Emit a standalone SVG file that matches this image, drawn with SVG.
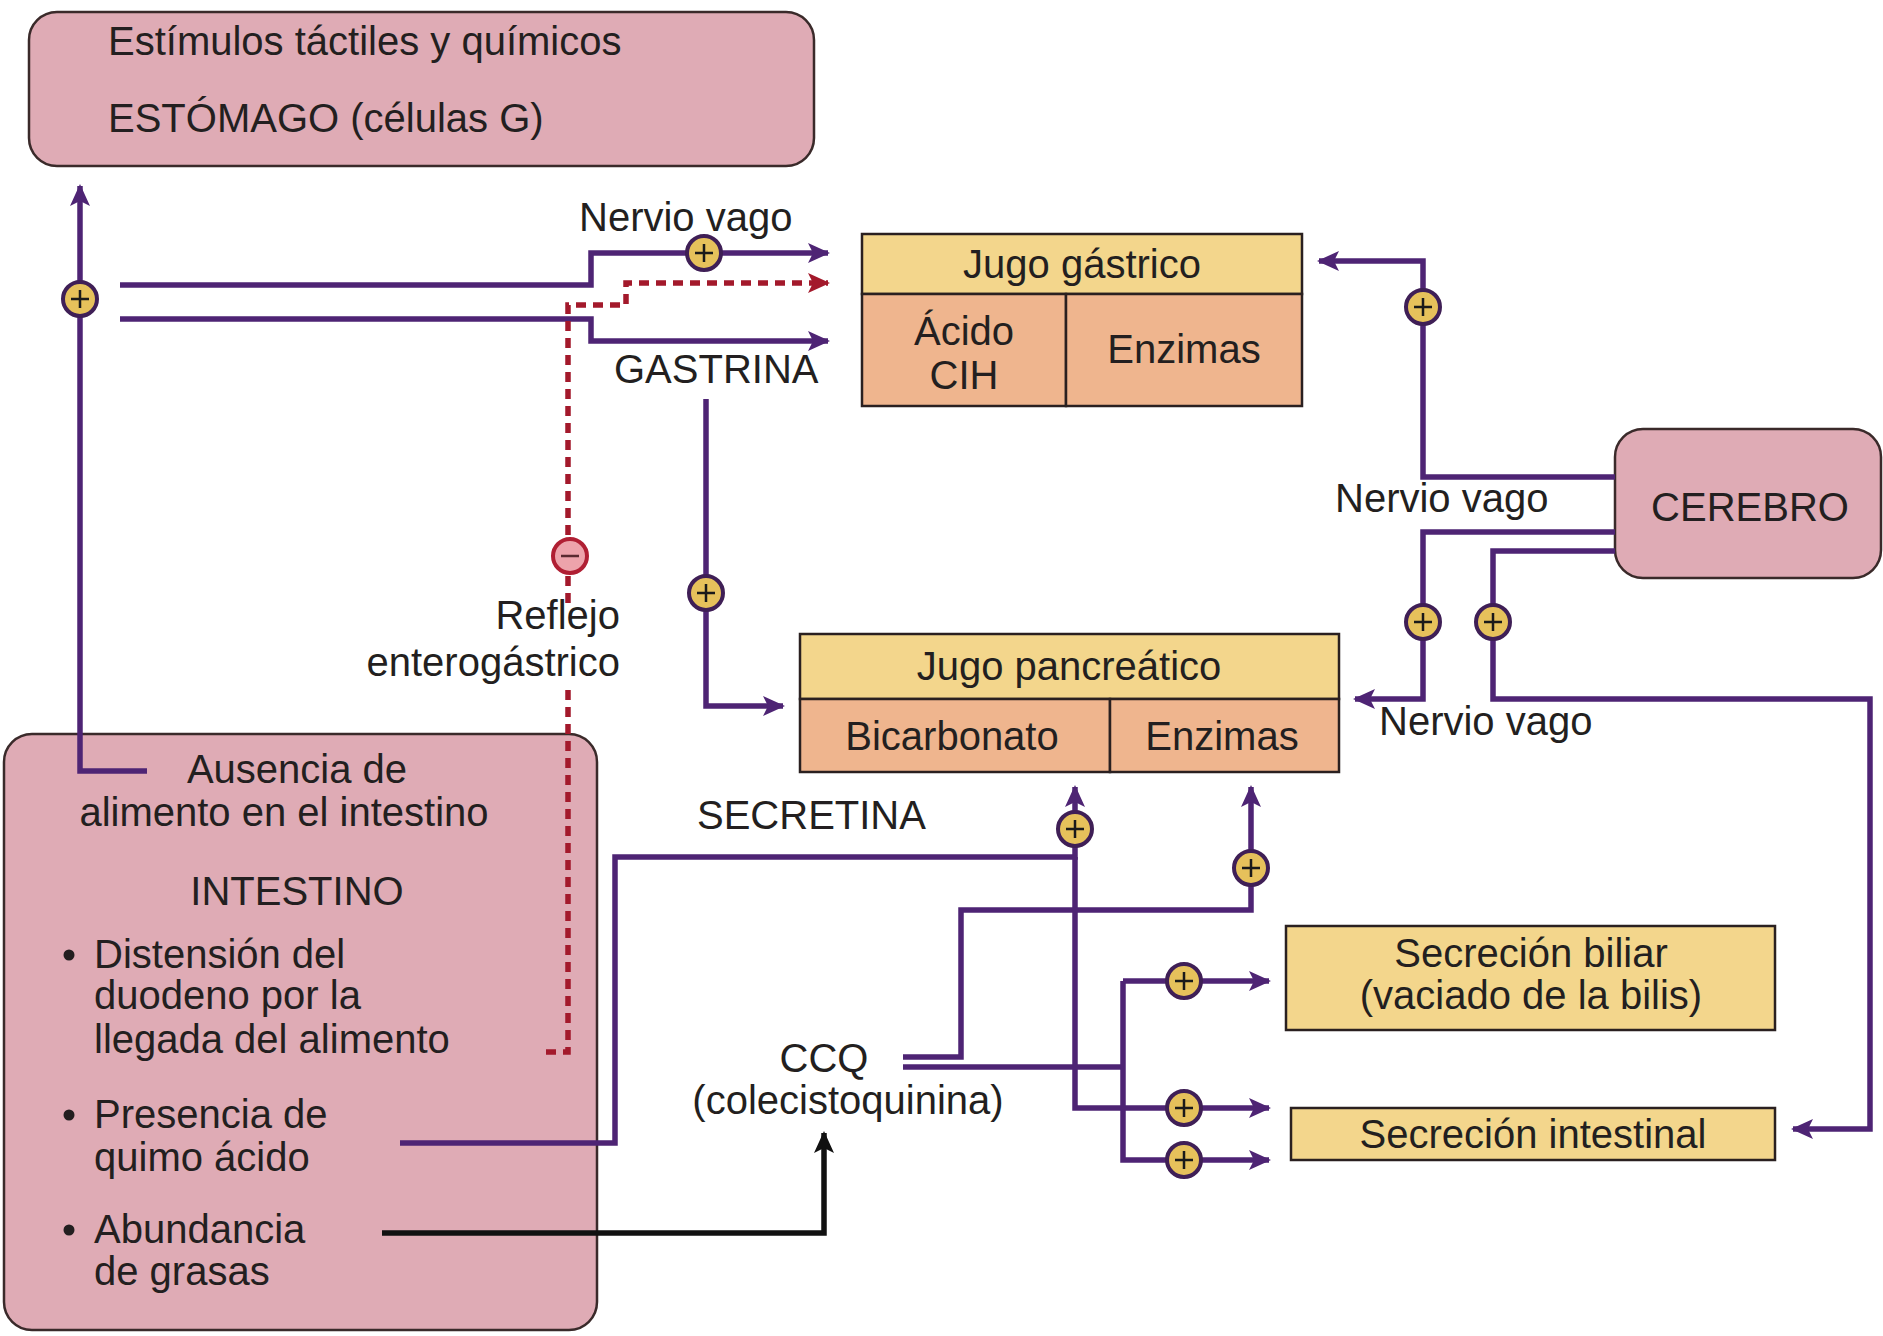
<svg xmlns="http://www.w3.org/2000/svg" width="1883" height="1336" viewBox="0 0 1883 1336">
  <defs>
    <marker id="arrP" viewBox="0 0 22 20" refX="20" refY="10" markerWidth="22" markerHeight="20" markerUnits="userSpaceOnUse" orient="auto">
      <path d="M0,0 L22,10 L0,20 L5,10 Z" fill="#4e2474"/>
    </marker>
    <marker id="arrR" viewBox="0 0 22 20" refX="20" refY="10" markerWidth="22" markerHeight="20" markerUnits="userSpaceOnUse" orient="auto">
      <path d="M0,0 L22,10 L0,20 L5,10 Z" fill="#a3192b"/>
    </marker>
    <marker id="arrK" viewBox="0 0 22 20" refX="20" refY="10" markerWidth="22" markerHeight="20" markerUnits="userSpaceOnUse" orient="auto">
      <path d="M0,0 L22,10 L0,20 L5,10 Z" fill="#111"/>
    </marker>
    <g id="plus">
      <circle r="17" fill="#e6c15b" stroke="#3f1f56" stroke-width="4"/>
      <path d="M-9,0 H9 M0,-9 V9" stroke="#1a1a1a" stroke-width="2.5"/>
    </g>
    <g id="minus">
      <circle r="17" fill="#eda3ab" stroke="#b01f33" stroke-width="4"/>
      <path d="M-9,0 H9" stroke="#5a2a30" stroke-width="2.5"/>
    </g>
  </defs>
  <style>
    text { font-family: "Liberation Sans", Arial, sans-serif; font-size: 40px; fill: #231f20; }
    .mid { text-anchor: middle; }
    .end { text-anchor: end; }
    .organ { fill: #dfabb5; stroke: #3a2a2a; stroke-width: 2.5; }
    .head { fill: #f3d68c; stroke: #2a2020; stroke-width: 2.5; }
    .part { fill: #efb58e; stroke: #2a2020; stroke-width: 2.5; }
    .wire { fill: none; stroke: #4e2474; stroke-width: 5.5; }
    .inhib { fill: none; stroke: #a3192b; stroke-width: 5.5; stroke-dasharray: 10 7; }
    .fat { fill: none; stroke: #111; stroke-width: 5.5; }
  </style>

  <rect width="1883" height="1336" fill="#ffffff"/>

  <!-- Stomach -->
  <g id="estomago">
    <rect class="organ" x="29" y="12" width="785" height="154" rx="28"/>
    <text x="108" y="55">Estímulos táctiles y químicos</text>
    <text x="108" y="132">ESTÓMAGO (células G)</text>
  </g>

  <!-- Intestine -->
  <g id="intestino">
    <rect class="organ" x="4" y="734" width="593" height="596" rx="28"/>
    <text class="mid" x="297" y="783">Ausencia de</text>
    <text class="mid" x="284" y="826">alimento en el intestino</text>
    <text class="mid" x="297" y="905">INTESTINO</text>
    <circle cx="69" cy="955" r="5.5" fill="#231f20"/>
    <text x="94" y="968">Distensión del</text>
    <text x="94" y="1009">duodeno por la</text>
    <text x="94" y="1053">llegada del alimento</text>
    <circle cx="69" cy="1115" r="5.5" fill="#231f20"/>
    <text x="94" y="1128">Presencia de</text>
    <text x="94" y="1171">quimo ácido</text>
    <circle cx="69" cy="1230" r="5.5" fill="#231f20"/>
    <text x="94" y="1243">Abundancia</text>
    <text x="94" y="1285">de grasas</text>
  </g>

  <!-- Gastric juice -->
  <g id="jugo-gastrico">
    <rect class="head" x="862" y="234" width="440" height="60"/>
    <rect class="part" x="862" y="294" width="204" height="112"/>
    <rect class="part" x="1066" y="294" width="236" height="112"/>
    <text class="mid" x="1082" y="278">Jugo gástrico</text>
    <text class="mid" x="964" y="345">Ácido</text>
    <text class="mid" x="964" y="389">CIH</text>
    <text class="mid" x="1184" y="363">Enzimas</text>
  </g>

  <!-- Pancreatic juice -->
  <g id="jugo-pancreatico">
    <rect class="head" x="800" y="634" width="539" height="65"/>
    <rect class="part" x="800" y="699" width="310" height="73"/>
    <rect class="part" x="1110" y="699" width="229" height="73"/>
    <text class="mid" x="1069" y="680">Jugo pancreático</text>
    <text class="mid" x="952" y="750">Bicarbonato</text>
    <text class="mid" x="1222" y="750">Enzimas</text>
  </g>

  <!-- Brain -->
  <g id="cerebro">
    <rect class="organ" x="1615" y="429" width="266" height="149" rx="28"/>
    <text class="mid" x="1750" y="521">CEREBRO</text>
  </g>

  <!-- Bile secretion -->
  <g id="secrecion-biliar">
    <rect class="head" x="1286" y="926" width="489" height="104"/>
    <text class="mid" x="1531" y="967">Secreción biliar</text>
    <text class="mid" x="1531" y="1009">(vaciado de la bilis)</text>
  </g>

  <!-- Intestinal secretion -->
  <g id="secrecion-intestinal">
    <rect class="head" x="1291" y="1108" width="484" height="52"/>
    <text class="mid" x="1533" y="1148">Secreción intestinal</text>
  </g>

  <!-- Connectors -->
  <g id="connectors">
    <path class="wire" d="M147,771 H80 V186" marker-end="url(#arrP)"/>
    <path class="wire" d="M120,285 H591 V253 H828" marker-end="url(#arrP)"/>
    <path class="wire" d="M120,319 H591 V341 H828" marker-end="url(#arrP)"/>
    <path class="inhib" d="M546,1052 H568 V690"/>
    <path class="inhib" d="M568,603 V305 H626 V283 H828" marker-end="url(#arrR)"/>
    <path class="wire" d="M706,399 V706 H783" marker-end="url(#arrP)"/>
    <path class="wire" d="M1615,477 H1423 V261 H1319" marker-end="url(#arrP)"/>
    <path class="wire" d="M1615,532 H1423 V699 H1355" marker-end="url(#arrP)"/>
    <path class="wire" d="M1615,551 H1493 V699 H1870 V1129 H1793" marker-end="url(#arrP)"/>
    <path class="wire" d="M400,1143 H615 V857 H1075 V787" marker-end="url(#arrP)"/>
    <path class="wire" d="M1075,857 V1108 H1269" marker-end="url(#arrP)"/>
    <path class="wire" d="M903,1057 H961 V910 H1251 V787" marker-end="url(#arrP)"/>
    <path class="wire" d="M903,1067 H1123"/>
    <path class="wire" d="M1123,981 V1160 H1269" marker-end="url(#arrP)"/>
    <path class="wire" d="M1123,981 H1269" marker-end="url(#arrP)"/>
    <path class="fat" d="M382,1233 H824 V1133" marker-end="url(#arrK)"/>

    <use href="#plus" x="80" y="299"/>
    <use href="#plus" x="704" y="253"/>
    <use href="#minus" x="570" y="556"/>
    <use href="#plus" x="706" y="593"/>
    <use href="#plus" x="1423" y="307"/>
    <use href="#plus" x="1423" y="622"/>
    <use href="#plus" x="1493" y="622"/>
    <use href="#plus" x="1075" y="829"/>
    <use href="#plus" x="1251" y="868"/>
    <use href="#plus" x="1184" y="981"/>
    <use href="#plus" x="1184" y="1108"/>
    <use href="#plus" x="1184" y="1160"/>
  </g>

  <!-- Labels -->
  <g id="labels">
    <text x="579" y="231">Nervio vago</text>
    <text x="614" y="383">GASTRINA</text>
    <text class="end" x="620" y="629">Reflejo</text>
    <text class="end" x="620" y="676">enterogástrico</text>
    <text x="1335" y="512">Nervio vago</text>
    <text x="1379" y="735">Nervio vago</text>
    <text x="697" y="829">SECRETINA</text>
    <text class="mid" x="824" y="1072">CCQ</text>
    <text class="mid" x="848" y="1114">(colecistoquinina)</text>
  </g>
</svg>
